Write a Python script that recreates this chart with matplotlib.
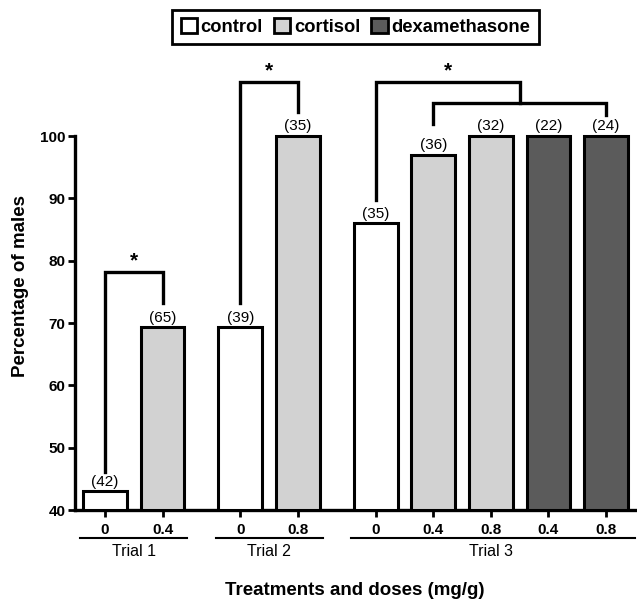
import matplotlib.pyplot as plt
from matplotlib.patches import Patch
import numpy as np

plt.rcParams['font.family'] = ['Liberation Sans', 'DejaVu Sans']

# data
trials = ['Trial 1', 'Trial 2', 'Trial 3']
trial_of_bar = [0, 0, 1, 1, 2, 2, 2, 2, 2]
doses = ['0', '0.4', '0', '0.8', '0', '0.4', '0.8', '0.4', '0.8']
treatment = ['control', 'cortisol', 'control', 'cortisol', 'control',
             'cortisol', 'cortisol', 'dexamethasone', 'dexamethasone']
pct_males = [43, 69.3, 69.3, 100, 86, 97, 100, 100, 100]
n_fish = [42, 65, 39, 35, 35, 36, 32, 22, 24]

colors = {'control': 'white', 'cortisol': '#d2d2d2', 'dexamethasone': '#5b5b5b'}

# bar positions: one unit per bar, extra gap between trials
group_gap = 0.35
pos = []
x = 0.0
for i, t in enumerate(trial_of_bar):
    if i > 0:
        x += 1 + (group_gap if t != trial_of_bar[i - 1] else 0)
    pos.append(x)
pos = np.array(pos)
width = 0.76

fig = plt.figure(figsize=(6.37, 6.01), dpi=100)
ax = fig.add_axes([0.1177, 0.1514, 0.879, 0.7464])

ax.bar(pos, [v - 40 for v in pct_males], bottom=40, width=width,
       color=[colors[t] for t in treatment], edgecolor='black', linewidth=2.2,
       zorder=3)

for p, v, n in zip(pos, pct_males, n_fish):
    ax.annotate('(%d)' % n, (p, v), xytext=(0, 2), textcoords='offset points',
                ha='center', va='bottom', fontsize=11)

ax.set_ylim(40, 112)
ax.set_xlim(-0.52, 9.2)
ax.set_yticks([40, 50, 60, 70, 80, 90, 100])
ax.set_xticks(pos)
ax.set_xticklabels(doses)
for lab in ax.get_xticklabels() + ax.get_yticklabels():
    lab.set_fontweight('bold')
    lab.set_fontsize(11)
ax.tick_params(axis='both', width=2, length=5, direction='out', pad=2)
ax.tick_params(axis='x', pad=4)

for s in ['top', 'right']:
    ax.spines[s].set_visible(False)
for s in ['left', 'bottom']:
    ax.spines[s].set_linewidth(2.4)
ax.spines['left'].set_bounds(40, 100)

ax.set_ylabel('Percentage of males', fontsize=13.5, fontweight='bold', labelpad=8)
ax.set_xlabel('Treatments and doses (mg/g)', fontsize=13.5, fontweight='bold',
              labelpad=33)

# trial group lines under the tick labels
for k, name in enumerate(trials):
    idx = [i for i, t in enumerate(trial_of_bar) if t == k]
    x0 = pos[idx[0]] - width / 2 - 0.05
    x1 = pos[idx[-1]] + width / 2 + 0.05
    if k == len(trials) - 1:
        x1 = ax.get_xlim()[1]
    ax.plot([x0, x1], [35.5, 35.5], color='black', lw=1.5, clip_on=False)
    ax.text((pos[idx[0]] + pos[idx[-1]]) / 2, 33.4, name, ha='center',
            va='center', fontsize=11.5)

lw = 2.4


def bracket(i, j, top, left_end, right_end):
    xi, xj = pos[i], pos[j]
    ax.plot([xi, xi, xj, xj], [left_end, top, top, right_end],
            color='black', lw=lw, clip_on=False, solid_joinstyle='miter')
    ax.text((xi + xj) / 2, top + 0.2, '*', ha='center', va='bottom',
            fontsize=15, fontweight='bold')


bracket(0, 1, 78.2, 46.1, 73.2)
bracket(2, 3, 108.7, 73.2, 103.9)
# trial 3: control vs all hormone treatments
ax.plot([pos[5], pos[5], pos[8], pos[8]], [102.0, 105.3, 105.3, 103.4],
        color='black', lw=lw, clip_on=False, solid_joinstyle='miter')
mid = (pos[5] + pos[8]) / 2
ax.plot([pos[4], pos[4], mid, mid], [89.8, 108.7, 108.7, 105.3],
        color='black', lw=lw, clip_on=False, solid_joinstyle='miter')
ax.text((pos[4] + mid) / 2, 108.9, '*', ha='center', va='bottom',
        fontsize=15, fontweight='bold')

handles = [Patch(facecolor=colors[k], edgecolor='black', linewidth=2, label=k)
           for k in colors]
leg = fig.legend(handles=handles, loc='center', bbox_to_anchor=(0.558, 0.955),
                 ncol=3, fancybox=False, framealpha=1, edgecolor='black',
                 prop={'weight': 'bold', 'size': 13.2}, handlelength=0.9,
                 handleheight=0.9, handletextpad=0.2, columnspacing=0.6,
                 borderpad=0.45, borderaxespad=0)
leg.get_frame().set_linewidth(2)

fig.savefig('out.png', dpi=100)
